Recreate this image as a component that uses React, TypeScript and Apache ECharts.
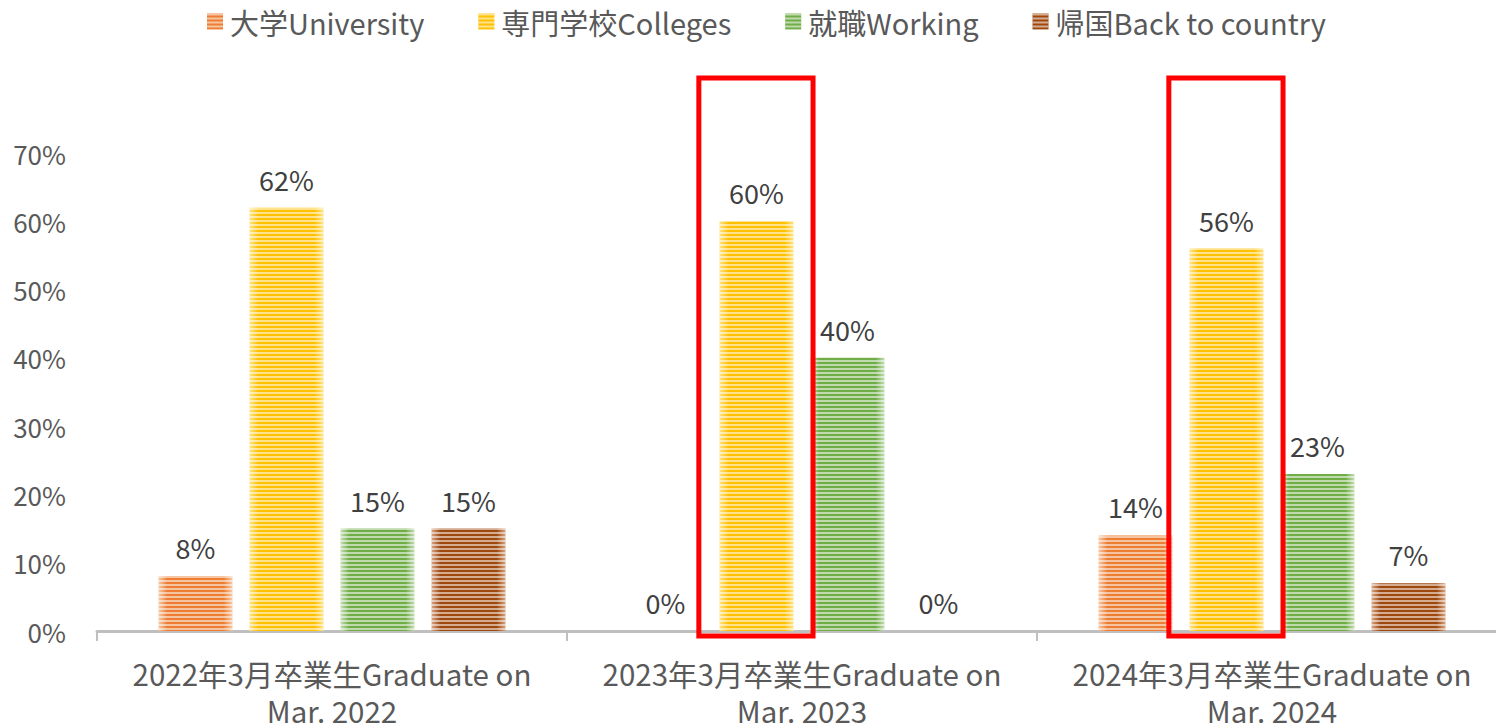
import React, { useEffect, useRef } from "react";
import * as echarts from "echarts";

const categories = [
  "2022年3月卒業生Graduate on\nMar. 2022",
  "2023年3月卒業生Graduate on\nMar. 2023",
  "2024年3月卒業生Graduate on\nMar. 2024",
];
const seriesNames = ["大学University", "専門学校Colleges", "就職Working", "帰国Back to country"];
const university = [0.08, 0, 0.14];
const colleges = [0.62, 0.6, 0.56];
const working = [0.15, 0.4, 0.23];
const backHome = [0.15, 0, 0.07];
const highlightBoxes = [
  [1, 0.81],
  [2, 0.81],
];
const yTicks = [0, 0.1, 0.2, 0.3, 0.4, 0.5, 0.6, 0.7];

const baseColors = ["#ED7D31", "#FFC000", "#70AD47", "#9E480E"];
const edgeColors = ["#F8C9A8", "#FFE38A", "#C6DEB5", "#D9A584"];

const FONT = "'Noto Sans CJK JP', 'Noto Sans', sans-serif";

const stripeDecal = {
  symbol: "rect",
  symbolSize: 1,
  dashArrayX: [1, 0],
  dashArrayY: [2, 2],
  rotation: 0,
  color: "rgba(255,255,255,0.55)",
};

function barStyle(i: number) {
  return {
    color: {
      type: "linear",
      x: 0,
      y: 0,
      x2: 1,
      y2: 0,
      colorStops: [
        { offset: 0, color: edgeColors[i] },
        { offset: 0.12, color: baseColors[i] },
        { offset: 0.88, color: baseColors[i] },
        { offset: 1, color: edgeColors[i] },
      ],
    },
    decal: stripeDecal,
  };
}

export default function App() {
  const ref = useRef<HTMLDivElement>(null);
  useEffect(() => {
    if (!ref.current) return;
    const chart = echarts.init(ref.current, undefined, { renderer: "svg" });
    const data = [university, colleges, working, backHome];
    const pct = (v: number) => Math.round(v * 100) + "%";
    chart.setOption({
      animation: false,
      textStyle: { fontFamily: FONT },
      legend: {
        data: seriesNames.map((name, i) => ({
          name,
          icon: "rect",
          itemStyle: { color: baseColors[i], decal: stripeDecal },
        })),
        top: 2,
        left: 202,
        itemWidth: 16,
        itemHeight: 16,
        itemGap: 54,
        textStyle: { fontSize: 29, color: "#595959", fontFamily: FONT, padding: [0, 0, 0, 2] },
      },
      grid: { left: 97, right: 0, top: 153, bottom: 96, containLabel: false },
      xAxis: {
        type: "category",
        data: categories,
        axisLine: { lineStyle: { color: "#BFBFBF", width: 3 } },
        axisTick: { show: true, interval: 0, length: 10, lineStyle: { color: "#BFBFBF", width: 2 } },
        axisLabel: {
          interval: 0,
          fontSize: 29.5,
          color: "#595959",
          lineHeight: 37,
          margin: 23,
          fontFamily: FONT,
        },
      },
      yAxis: {
        type: "value",
        min: 0,
        max: 0.7,
        interval: 0.1,
        axisLine: { show: false },
        axisTick: { show: false },
        splitLine: { show: false },
        axisLabel: {
          fontSize: 26,
          color: "#595959",
          margin: 31,
          fontFamily: FONT,
          formatter: (v: number) => (yTicks.some((t) => Math.abs(t - v) < 1e-6) ? pct(v) : ""),
        },
      },
      series: [
        ...seriesNames.map((name, i) => ({
          name,
          type: "bar",
          data: data[i],
          barWidth: 74,
          barGap: "23%",
          itemStyle: barStyle(i),
          label: {
            show: true,
            position: "top",
            distance: 15,
            fontSize: 27,
            color: "#404040",
            fontFamily: FONT,
            formatter: (p: any) => pct(p.value),
          },
        })),
        {
          type: "custom",
          name: "highlight",
          clip: false,
          z: 10,
          silent: true,
          data: highlightBoxes,
          encode: { x: 0, y: 1 },
          renderItem: (params: any, api: any) => {
            const idx = api.value(0);
            const top = api.coord([idx, api.value(1)]);
            const zero = api.coord([idx, 0]);
            const band = api.size([1, 0])[0];
            const cx = top[0] - 0.098 * band;
            const w = 0.243 * band;
            const bottom = zero[1] + 5;
            return {
              type: "rect",
              shape: { x: cx - w / 2, y: top[1], width: w, height: bottom - top[1] },
              style: { fill: "none", stroke: "#FF0000", lineWidth: 5 },
            };
          },
        },
      ],
    });
    return () => chart.dispose();
  }, []);
  return (
    <div
      ref={ref}
      style={{ position: "fixed", left: 0, top: 0, width: 1507, height: 728, background: "#fff" }}
    />
  );
}
